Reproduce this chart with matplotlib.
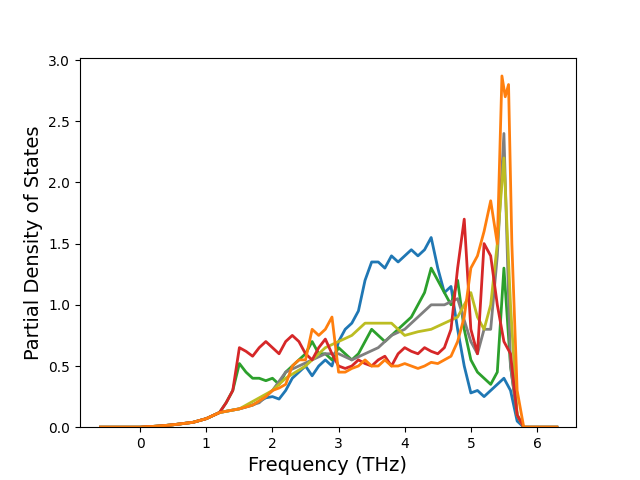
import matplotlib
matplotlib.use("Agg")
import matplotlib.pyplot as plt

base_x = [-0.6, 0.0, 0.3, 0.5, 0.8, 1.0, 1.2]
base_y = [0.0, 0.0, 0.01, 0.02, 0.04, 0.07, 0.12]

blue_x = base_x + [1.3,1.5,1.7,1.9,2.0,2.1,2.2,2.3,2.4,2.5,2.6,2.7,2.8,2.9,3.0,3.1,3.2,3.3,3.4,3.5,3.6,3.7,3.8,3.9,4.0,4.1,4.2,4.3,4.4,4.5,4.6,4.7,4.8,4.9,5.0,5.1,5.2,5.3,5.4,5.5,5.6,5.7,5.8,6.3]
blue_y = base_y + [0.13,0.15,0.18,0.24,0.25,0.23,0.3,0.4,0.45,0.5,0.42,0.5,0.55,0.5,0.7,0.8,0.85,0.95,1.2,1.35,1.35,1.3,1.4,1.35,1.4,1.45,1.4,1.45,1.55,1.3,1.1,1.15,0.8,0.5,0.28,0.3,0.25,0.3,0.35,0.4,0.3,0.05,0.0,0.0]

orange_x = base_x + [1.5,1.7,1.9,2.0,2.1,2.2,2.3,2.4,2.5,2.6,2.7,2.8,2.9,3.0,3.1,3.2,3.3,3.4,3.5,3.6,3.7,3.8,3.9,4.0,4.1,4.2,4.3,4.4,4.5,4.6,4.7,4.8,4.9,5.0,5.1,5.2,5.3,5.4,5.47,5.52,5.57,5.62,5.7,5.8,6.3]
orange_y = base_y + [0.15,0.18,0.25,0.3,0.32,0.35,0.5,0.55,0.55,0.8,0.75,0.8,0.9,0.45,0.45,0.48,0.5,0.55,0.5,0.5,0.55,0.5,0.5,0.52,0.5,0.48,0.5,0.53,0.52,0.55,0.58,0.7,0.9,1.3,1.4,1.6,1.85,1.5,2.87,2.7,2.8,1.5,0.3,0.0,0.0]

green_x = base_x + [1.3,1.4,1.5,1.6,1.7,1.8,1.9,2.0,2.1,2.2,2.3,2.4,2.5,2.6,2.7,2.8,2.9,3.0,3.1,3.2,3.3,3.4,3.5,3.6,3.7,3.8,3.9,4.0,4.1,4.2,4.3,4.4,4.5,4.6,4.7,4.8,4.9,5.0,5.1,5.2,5.3,5.4,5.5,5.6,5.7,5.8,6.3]
green_y = base_y + [0.2,0.3,0.52,0.45,0.4,0.4,0.38,0.4,0.35,0.45,0.5,0.55,0.6,0.7,0.6,0.6,0.55,0.65,0.6,0.55,0.6,0.7,0.8,0.75,0.7,0.75,0.8,0.85,0.9,1.0,1.1,1.3,1.2,1.1,1.0,1.2,0.8,0.55,0.45,0.4,0.35,0.45,1.3,0.5,0.1,0.0,0.0]

red_x = base_x + [1.3,1.4,1.5,1.6,1.7,1.8,1.9,2.0,2.1,2.2,2.3,2.4,2.5,2.6,2.7,2.8,2.9,3.0,3.1,3.2,3.3,3.4,3.5,3.6,3.7,3.8,3.9,4.0,4.1,4.2,4.3,4.4,4.5,4.6,4.7,4.8,4.9,5.0,5.1,5.2,5.3,5.4,5.5,5.6,5.7,5.8,6.3]
red_y = base_y + [0.2,0.3,0.65,0.62,0.58,0.65,0.7,0.65,0.6,0.7,0.75,0.7,0.6,0.55,0.65,0.72,0.6,0.5,0.48,0.5,0.55,0.52,0.5,0.55,0.58,0.5,0.6,0.65,0.62,0.6,0.65,0.62,0.6,0.65,0.8,1.3,1.7,0.8,0.6,1.5,1.4,1.0,0.7,0.6,0.1,0.0,0.0]

gray_x = base_x + [1.5,1.8,2.0,2.2,2.4,2.6,2.8,3.0,3.2,3.4,3.6,3.8,4.0,4.2,4.4,4.6,4.8,5.0,5.1,5.2,5.3,5.4,5.5,5.6,5.7,5.8,6.3]
gray_y = base_y + [0.15,0.2,0.3,0.45,0.5,0.55,0.6,0.6,0.55,0.6,0.65,0.75,0.8,0.9,1.0,1.0,1.05,0.7,0.6,0.8,0.8,1.4,2.4,0.5,0.1,0.0,0.0]

olive_x = base_x + [1.5,2.0,2.2,2.5,2.8,3.0,3.2,3.4,3.6,3.8,4.0,4.2,4.4,4.6,4.8,5.0,5.1,5.2,5.3,5.4,5.5,5.6,5.7,5.8,6.3]
olive_y = base_y + [0.15,0.3,0.4,0.5,0.65,0.7,0.75,0.85,0.85,0.85,0.75,0.78,0.8,0.85,0.9,1.1,0.9,0.8,1.0,1.5,2.2,1.0,0.1,0.0,0.0]

fig, ax = plt.subplots(figsize=(6.4, 4.8), dpi=100)
ax.plot(blue_x, blue_y, color='#1f77b4', lw=2)
ax.plot(green_x, green_y, color='#2ca02c', lw=2)
ax.plot(gray_x, gray_y, color='#7f7f7f', lw=2)
ax.plot(olive_x, olive_y, color='#bcbd22', lw=2)
ax.plot(red_x, red_y, color='#d62728', lw=2)
ax.plot(orange_x, orange_y, color='#ff7f0e', lw=2)
ax.set_xlim(-0.91, 6.59)
ax.set_ylim(0, 3.02)
ax.set_xlabel('Frequency (THz)', fontsize=14)
ax.set_ylabel('Partial Density of States', fontsize=14)
fig.savefig('out.png')
